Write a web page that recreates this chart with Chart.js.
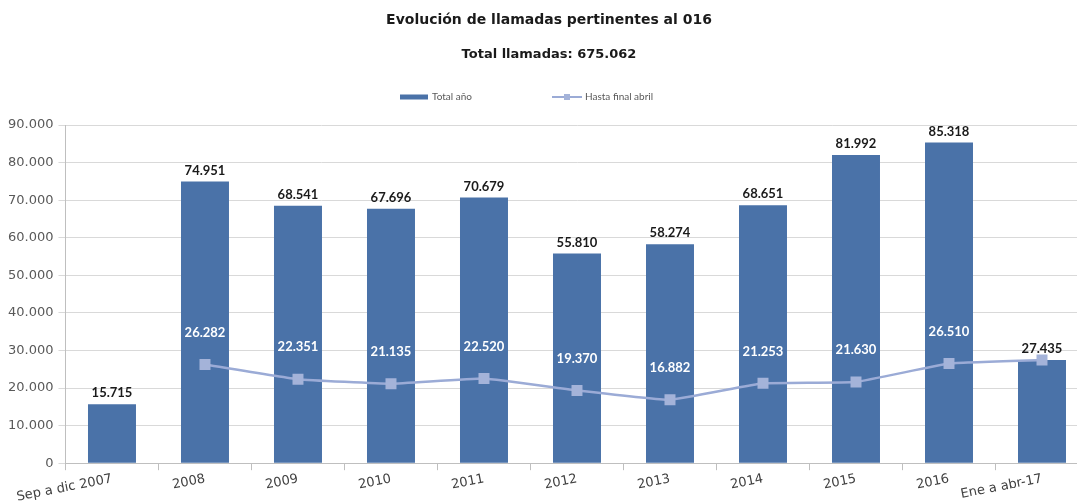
<!DOCTYPE html>
<html>
<head>
<meta charset="utf-8">
<script src="https://cdn.jsdelivr.net/npm/chart.js@4"></script>
<style>
  html, body { margin: 0; padding: 0; background: #fff; overflow: hidden; }
  /* el lienzo es algo más ancho: el gráfico original queda recortado a la derecha */
  #wrap { width: 1077px; height: 504px; overflow: hidden; }
</style>
</head>
<body>
<div id="wrap"><canvas id="chart" width="1097" height="504"></canvas></div>
<script>
// categorías y valores
const periodos = ["Sep a dic 2007", "2008", "2009", "2010", "2011", "2012", "2013", "2014", "2015", "2016", "Ene a abr-17"];
const totalAnio = [15715, 74951, 68541, 67696, 70679, 55810, 58274, 68651, 81992, 85318, 27435];
const hastaAbril = [null, 26282, 22351, 21135, 22520, 19370, 16882, 21253, 21630, 26510, 27435];
const yTicks = [0, 10000, 20000, 30000, 40000, 50000, 60000, 70000, 80000, 90000];

const titulo = "Evolución de llamadas pertinentes al 016";
const subtitulo = "Total llamadas: 675.062";

const fmt = (v) => v.toLocaleString("de-DE");
const FONT = "Lato, 'Open Sans', sans-serif";
const WIDE = "'DejaVu Sans', sans-serif";
const AZUL = "#4A72A8";
const LILA = "#9BABD6";

// etiquetas de datos (sin plugin externo)
const labelsPlugin = {
  id: "etiquetas",
  afterDatasetsDraw(chart) {
    const ctx = chart.ctx;
    ctx.save();
    ctx.textAlign = "center";
    ctx.textBaseline = "middle";
    ctx.font = "bold 13px " + FONT;

    const bars = chart.getDatasetMeta(0).data;
    ctx.fillStyle = "#1a1a1a";
    bars.forEach((b, i) => {
      ctx.fillText(fmt(totalAnio[i]), b.x, b.y - 11);
    });

    const pts = chart.getDatasetMeta(1).data;
    ctx.fillStyle = "#ffffff";
    pts.forEach((p, i) => {
      if (hastaAbril[i] == null || i === pts.length - 1) return;
      ctx.fillText(fmt(hastaAbril[i]), p.x, p.y - 32);
    });
    ctx.restore();
  }
};

// títulos y leyenda
const extrasPlugin = {
  id: "extras",
  afterDraw(chart) {
    const ctx = chart.ctx;
    ctx.save();
    ctx.textBaseline = "middle";

    ctx.textAlign = "center";
    ctx.fillStyle = "#1a1a1a";
    ctx.font = "bold 14px " + WIDE;
    ctx.fillText(titulo, 549, 20);
    ctx.font = "bold 13px " + WIDE;
    ctx.fillText(subtitulo, 549, 55);

    const ly = 97;
    ctx.textAlign = "left";
    ctx.font = "10px " + FONT;
    ctx.fillStyle = AZUL;
    ctx.fillRect(400, ly - 2.5, 28, 5);
    ctx.fillStyle = "#595959";
    ctx.fillText(chart.data.datasets[0].label, 432, ly);
    ctx.strokeStyle = LILA;
    ctx.lineWidth = 2;
    ctx.beginPath();
    ctx.moveTo(552, ly);
    ctx.lineTo(582, ly);
    ctx.stroke();
    ctx.fillStyle = "#A4B3D9";
    ctx.fillRect(564, ly - 3, 6, 6);
    ctx.fillStyle = "#595959";
    ctx.fillText(chart.data.datasets[1].label, 585, ly);
    ctx.restore();
  }
};

new Chart(document.getElementById("chart"), {
  data: {
    labels: periodos,
    datasets: [
      {
        type: "bar",
        label: "Total año",
        data: totalAnio,
        backgroundColor: AZUL,
        borderWidth: 0,
        categoryPercentage: 1,
        barPercentage: 0.516,
        order: 2
      },
      {
        type: "line",
        label: "Hasta final abril",
        data: hastaAbril,
        borderColor: LILA,
        backgroundColor: LILA,
        borderWidth: 2.5,
        pointStyle: "rect",
        pointRadius: 6,
        pointBackgroundColor: "#A4B3D9",
        pointBorderColor: "#A4B3D9",
        tension: 0.1,
        order: 1
      }
    ]
  },
  options: {
    responsive: false,
    animation: false,
    layout: { padding: { left: 3, right: 0, top: 125, bottom: -2 } },
    plugins: {
      title: { display: false },
      legend: { display: false },
      tooltip: { enabled: false }
    },
    scales: {
      x: {
        grid: { drawOnChartArea: false, offset: true, color: "#bfbfbf", tickLength: 7 },
        border: { color: "#bfbfbf" },
        ticks: {
          color: "#404040",
          font: { family: WIDE, size: 13 },
          minRotation: 11,
          maxRotation: 11,
          autoSkip: false,
          padding: 1
        }
      },
      y: {
        min: 0,
        max: 90000,
        afterBuildTicks(axis) { axis.ticks = yTicks.map(v => ({ value: v })); },
        grid: { color: "#d9d9d9", tickLength: 7 },
        border: { color: "#bfbfbf" },
        ticks: {
          color: "#595959",
          font: { family: WIDE, size: 13 },
          padding: 5,
          callback: (v) => fmt(v)
        }
      }
    }
  },
  plugins: [labelsPlugin, extrasPlugin]
});
</script>
</body>
</html>
